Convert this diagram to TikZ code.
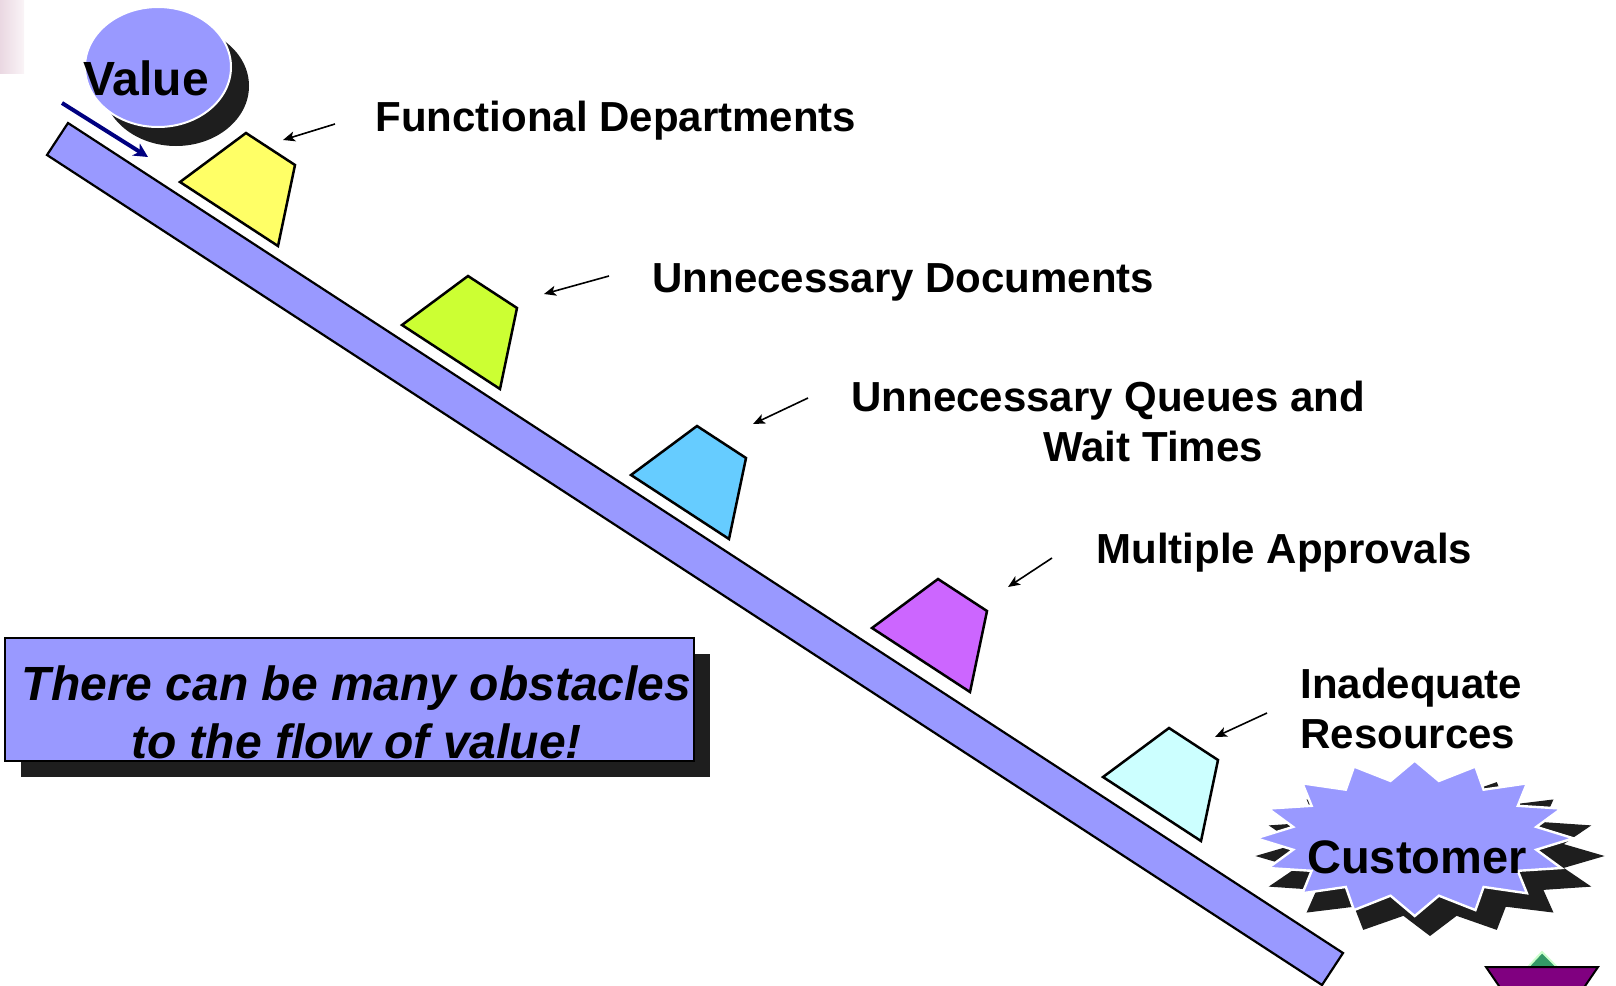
\documentclass[tikz,border=0pt]{standalone}
\usepackage{fontspec}
\setmainfont{Liberation Sans}
\usetikzlibrary{arrows.meta,shadows}

\definecolor{lav}{HTML}{9999FF}
\definecolor{shadowc}{RGB}{30,30,30}
\definecolor{flownavy}{HTML}{000080}
\definecolor{obYellow}{HTML}{FFFF66}
\definecolor{obLime}{HTML}{CCFF33}
\definecolor{obSky}{HTML}{66CCFF}
\definecolor{obViolet}{HTML}{CC66FF}
\definecolor{obIce}{HTML}{CCFFFF}
\definecolor{boatPurple}{HTML}{800080}
\definecolor{sailGreen}{HTML}{339966}
\definecolor{sailGlow}{HTML}{CCFFCC}
\definecolor{pinkL}{RGB}{234,216,226}
\definecolor{pinkR}{RGB}{250,244,247}

% one obstacle block sitting on the ramp, given by its lower-left corner
\newcommand\obstacle[2]{%
  \draw[obst, fill=#2] (#1) -- +(66,-49) -- +(115,-17) -- +(98,64) -- cycle;}

\begin{document}
\begin{tikzpicture}[x=0.5pt, y=-0.5pt,
  bar/.style={draw=black, line width=1.1pt, fill=lav},
  obst/.style={draw=black, line width=1.25pt, line join=miter},
  lbl/.style={anchor=base west, inner sep=0pt, font=\bfseries\fontsize{21}{25}\selectfont},
  ptr/.style={draw=black, line width=0.8pt, -{Stealth[length=6pt,width=5pt,inset=1.5pt]}},
  flow/.style={draw=flownavy, line width=2pt, -{Stealth[length=7pt,width=7pt,inset=2pt]}},
  bigword/.style={anchor=base, inner sep=0pt, font=\bfseries\fontsize{23.5}{28}\selectfont},
  tbox/.style={draw=black, line width=1pt, fill=lav, minimum width=344.5pt,
    minimum height=61.5pt, inner sep=0pt, align=center,
    font=\bfseries\itshape\fontsize{24}{29}\selectfont,
    general shadow={fill=shadowc, shadow xshift=8pt, shadow yshift=-8pt}}]
\useasboundingbox (0,0) rectangle (1616,985);
\clip (0,0) rectangle (1616,985);

% faint strip in the corner
\shade[left color=pinkL, right color=pinkR] (0,0) rectangle (24,73);

% the "Value" ball
\fill[shadowc] (176,86) ellipse [x radius=73, y radius=60];
\draw[white, line width=1pt, fill=lav] (158,67) ellipse [x radius=73, y radius=60];
\node[bigword, font=\bfseries\fontsize{24}{28}\selectfont] (value) at (146,95) {Value};

% flow arrow onto the ramp
\coordinate (flowS) at (62,103);
\coordinate (flowE) at (148,157);
\draw[flow] (flowS) -- (flowE);

% the ramp
\draw[bar] (68,123) -- (1343,953) -- (1322,985) -- (47,155) -- cycle;

% obstacles
\obstacle{180,182}{obYellow}
\obstacle{402,325}{obLime}
\obstacle{631,475}{obSky}
\obstacle{872,628}{obViolet}
\obstacle{1103,777}{obIce}

% labels (two-line ones are placed by the baseline of their last line)
\node[lbl] (l1) at (375,131) {Functional Departments};
\node[lbl] (l2) at (652,292) {Unnecessary Documents};
\node[lbl, align=left] (l3) at (851,461) {Unnecessary Queues and\\\hspace*{96pt}Wait Times};
\node[lbl] (l4) at (1096,563) {Multiple Approvals};
\node[lbl, align=left] (l5) at (1300,748) {Inadequate\\Resources};

% pointers from labels to obstacles
\coordinate (p1s) at (335,124);  \coordinate (p1e) at (283,140);
\coordinate (p2s) at (609,276);  \coordinate (p2e) at (544,294);
\coordinate (p3s) at (808,398);  \coordinate (p3e) at (753,424);
\coordinate (p4s) at (1052,558); \coordinate (p4e) at (1008,587);
\coordinate (p5s) at (1267,713); \coordinate (p5e) at (1215,737);
\draw[ptr] (p1s) -- (p1e);
\draw[ptr] (p2s) -- (p2e);
\draw[ptr] (p3s) -- (p3e);
\draw[ptr] (p4s) -- (p4e);
\draw[ptr] (p5s) -- (p5e);

% message box
\node[tbox] (note) at (349.5,699.5)
  {\hspace*{7pt}\rule{0pt}{30pt}There can be many obstacles\\\hspace*{7pt}to the flow of value!};

% the "Customer" burst
\begin{scope}[shift={(1430,856)}]
  \fill[shadowc] (174.6,0)
    \foreach \a in {0,22.5,...,337.5}
      { -- ({174.6*cos(\a)},{80*sin(\a)}) -- ({136.4*cos(\a+11.25)},{61*sin(\a+11.25)}) }
    -- cycle;
\end{scope}
\begin{scope}[shift={(1414.7,838.3)}]
  \draw[white, line width=1.2pt, fill=lav, line join=miter] (158.7,0)
    \foreach \a in {0,22.5,...,337.5}
      { -- ({158.7*cos(\a)},{77.7*sin(\a)}) -- ({124*cos(\a+11.25)},{58.5*sin(\a+11.25)}) }
    -- cycle;
\end{scope}
\node[bigword] (customer) at (1417,873) {Customer};

% little boat in the corner
\draw[sailGlow, line width=1pt, fill=sailGreen] (1528,967) -- (1542,952) -- (1557,967) -- cycle;
\draw[black, line width=1pt, fill=boatPurple] (1486,967) -- (1598,967) -- (1572,1005) -- (1512,1005) -- cycle;
\end{tikzpicture}
\end{document}
